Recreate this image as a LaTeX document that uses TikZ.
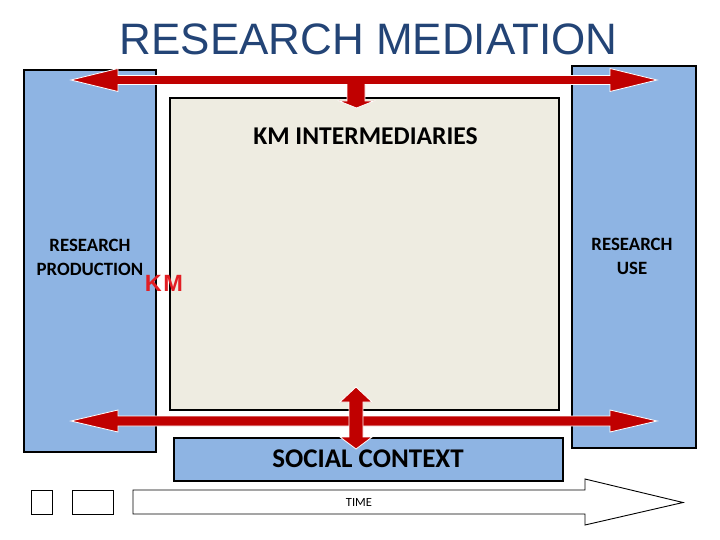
\documentclass[tikz,border=0pt]{standalone}
\usepackage{fontspec}
\setmainfont{Carlito}
\newfontfamily\arialf{Liberation Sans}
\definecolor{boxblue}{RGB}{142,180,227}
\definecolor{beige}{RGB}{238,236,225}
\definecolor{arrred}{RGB}{192,0,0}
\definecolor{titleblue}{RGB}{35,68,118}
\definecolor{kmred}{RGB}{226,30,36}
\tikzset{
  bluebox/.style={draw=black, line width=1.6pt, fill=boxblue, inner sep=0pt},
  midbox/.style={draw=black, line width=1.6pt, fill=beige, inner sep=0pt},
  thinbox/.style={draw=black, line width=0.9pt, fill=white, inner sep=0pt},
  redarrow/.style={fill=arrred, draw=white, line width=0.8pt, line join=miter},
  timearrow/.style={fill=white, draw=black, line width=0.9pt, line join=miter},
  lbl/.style={inner sep=0pt, text=black, font=\bfseries\fontsize{18.8}{24}\selectfont, align=center}
}
\begin{document}
\begin{tikzpicture}[x=1pt,y=-1pt]
\useasboundingbox (0,0) rectangle (720,540);
% title
\node[inner sep=0pt, anchor=base, text=titleblue, font=\arialf\fontsize{44}{48}\selectfont] (title) at (368.5,55) {RESEARCH MEDIATION};
% boxes
\node[bluebox, minimum width=132pt, minimum height=382pt] (prod) at (90,261) {};
\node[bluebox, minimum width=124pt, minimum height=382pt] (use) at (634,257) {};
\node[midbox, minimum width=389pt, minimum height=312pt] (inter) at (364.5,254) {};
\node[bluebox, minimum width=389pt, minimum height=43pt] (social) at (368.5,459.5) {};
% texts
\node[inner sep=0pt, anchor=base, font=\bfseries\fontsize{25.6}{30}\selectfont] (intertxt) at (365.5,145) {KM INTERMEDIARIES};
\node[inner sep=0pt, anchor=base, font=\bfseries\fontsize{27}{32}\selectfont] (socialtxt) at (368,467) {SOCIAL CONTEXT};
\node[lbl, anchor=north] (usetxt) at (632,238) {RESEARCH\\USE};
\node[lbl, anchor=north] (prodtxt) at (90,239) {RESEARCH\\PRODUCTION};
\node[inner sep=0pt, anchor=base, text=kmred, font=\arialf\bfseries\fontsize{23.5}{28}\selectfont] (km) at (164,291.5) {K\kern1.5ptM};
% top arrow with downward stub
\draw[redarrow] (71,80) -- (118,68.5) -- (118,75.5) -- (610,75.5) -- (610,68.5) -- (657,80)
  -- (610,91.5) -- (610,84.5) -- (365,84.5) -- (365,101) -- (374,101) -- (356.5,108)
  -- (339,101) -- (347,101) -- (347,84.5) -- (118,84.5) -- (118,91.5) -- cycle;
% bottom horizontal arrow
\draw[redarrow] (71,421) -- (118,410) -- (118,416) -- (610,416) -- (610,410) -- (657,421)
  -- (610,432) -- (610,426) -- (118,426) -- (118,432) -- cycle;
% vertical double arrow
\draw[redarrow] (356,387) -- (372,402) -- (363,402) -- (363,437) -- (372,437) -- (356,449)
  -- (340,437) -- (349,437) -- (349,402) -- (340,402) -- cycle;
% time line
\node[thinbox, minimum width=21pt, minimum height=24pt] (sq1) at (41.5,502) {};
\node[thinbox, minimum width=41pt, minimum height=24pt] (sq2) at (92.5,502) {};
\draw[timearrow] (133,490) -- (585,490) -- (585,479) -- (683,502.5) -- (585,525) -- (585,514) -- (133,514) -- cycle;
\node[inner sep=0pt, anchor=base, font=\fontsize{12.5}{15}\selectfont] (time) at (359,506.5) {TIME};
\end{tikzpicture}
\end{document}
